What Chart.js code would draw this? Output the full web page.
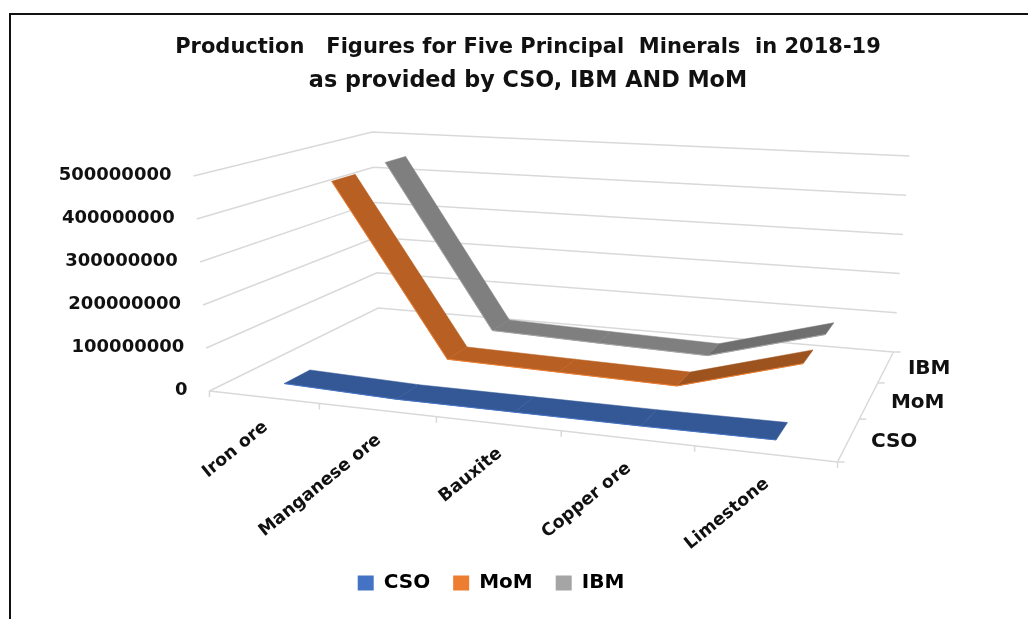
<!DOCTYPE html>
<html>
<head>
<meta charset="utf-8">
<title>Production Figures</title>
<script src="https://cdn.jsdelivr.net/npm/chart.js@4"></script>
<style>
    body { margin: 0; background: #fff; overflow: hidden; }
    #frame { position: absolute; left: 9px; top: 13px; right: 0; bottom: -4px; border-left: 2px solid #111; border-top: 2px solid #111; }
    canvas { position: absolute; left: 0; top: 0; }
</style>
</head>
<body>
<div id="frame"></div>
<canvas id="chart" width="1028" height="619"></canvas>
<script>
const categories = ['Iron ore', 'Manganese ore', 'Bauxite', 'Copper ore', 'Limestone'];
const seriesNames = ['CSO', 'MoM', 'IBM'];
const cso = [9000000, 1000000, 1000000, 1000000, 3000000];
const mom = [440000000, 18000000, 13000000, 8000000, 88000000];
const ibm = [448000000, 20000000, 12000000, 5000000, 83000000];
const valueTicks = [0, 100000000, 200000000, 300000000, 400000000, 500000000];

const VALUE_MAX = 500000000;
const RIBBON_DEPTH = 0.14;
const FONT = '"DejaVu Sans"';

// Box corners as seen in the picture, used to project (category, depth, value).
function quadMap(p00, p10, p11, p01) {
    const dx1 = p10[0] - p11[0], dx2 = p01[0] - p11[0], sx = p00[0] - p10[0] + p11[0] - p01[0];
    const dy1 = p10[1] - p11[1], dy2 = p01[1] - p11[1], sy = p00[1] - p10[1] + p11[1] - p01[1];
    const den = dx1 * dy2 - dx2 * dy1;
    const g = (sx * dy2 - dx2 * sy) / den;
    const h = (dx1 * sy - sx * dy1) / den;
    const a = p10[0] - p00[0] + g * p10[0], b = p01[0] - p00[0] + h * p01[0];
    const d = p10[1] - p00[1] + g * p10[1], e = p01[1] - p00[1] + h * p01[1];
    return (u, v) => {
        const w = g * u + h * v + 1;
        return [(a * u + b * v + p00[0]) / w, (d * u + e * v + p00[1]) / w];
    };
}
const floorMap = quadMap([209, 391], [838, 462], [894, 352], [378, 308]);
const roofMap = quadMap([193, 176], [852, 222], [910, 156], [372, 132]);

function project(u, v, value) {
    const lo = floorMap(u, v), hi = roofMap(u, v), t = value / VALUE_MAX;
    return { x: lo[0] + (hi[0] - lo[0]) * t, y: lo[1] + (hi[1] - lo[1]) * t };
}
const catU = i => (i + 0.5) / categories.length;
const depthV = i => (i + 0.5) / seriesNames.length;

const datasets = [];

function addRibbon(values, seriesIdx, shade, riseShade, edge) {
    const front = depthV(seriesIdx) - RIBBON_DEPTH / 2;
    const back = depthV(seriesIdx) + RIBBON_DEPTH / 2;
    const at = i => catU(i) + 0.004;
    const edgePoints = values.map((val, i) => project(at(i), front, val));
    datasets.push({ data: edgePoints, showLine: true, fill: false, borderColor: edge, borderWidth: 1 });
    for (let i = 0; i < values.length - 1; i++) {
        const a = at(i), b = at(i + 1);
        const color = values[i + 1] > values[i] ? riseShade : shade;
        datasets.push({
            data: [project(a, front, values[i]), project(b, front, values[i + 1]),
                project(b, back, values[i + 1]), project(a, back, values[i]), project(a, front, values[i])],
            showLine: true, fill: 'shape', backgroundColor: color, borderColor: color, borderWidth: 0.5,
        });
    }
}
addRibbon(cso, 0, '#335895', '#335895', '#4472c4');
addRibbon(mom, 1, '#b86023', '#9c531d', '#ed7d31');
addRibbon(ibm, 2, '#7f7f7f', '#6f6f6f', '#a5a5a5');

function addRule(points) {
    datasets.push({ data: points, showLine: true, fill: false, borderColor: '#d9d9d9', borderWidth: 1.5 });
}
// walls
valueTicks.forEach(val => {
    addRule([project(0, 0, val), project(0, 1, val), project(1, 1, val)]);
});
// floor edges and ticks
addRule([project(0, 0, 0), project(1, 0, 0), project(1, 1, 0)]);
for (let i = 0; i <= categories.length; i++) {
    const p = project(i / categories.length, 0, 0);
    addRule([p, { x: p.x, y: p.y + 6 }]);
}
for (let i = 0; i <= seriesNames.length; i++) {
    const p = project(1, i / seriesNames.length, 0);
    addRule([p, { x: p.x + 7, y: p.y }]);
}

const axisText = {
    id: 'axisText',
    afterLayout(chart) {
        // Title sits right of centre and the legend left of it in the picture.
        chart.boxes.filter(box => box.options && box.options.text !== undefined).forEach(box => {
            box.left += 14;
            box.right += 14;
        });
        chart.legend.left -= 23;
        chart.legend.right -= 23;
        chart.legend.top -= 16;
        chart.legend.bottom -= 16;
    },
    afterDatasetsDraw(chart) {
        const { ctx, scales } = chart;
        const px = p => [scales.x.getPixelForValue(p.x), scales.y.getPixelForValue(p.y)];
        ctx.save();
        ctx.fillStyle = '#111';
        ctx.font = 'bold 18px ' + FONT;
        ctx.textBaseline = 'middle';
        ctx.textAlign = 'right';
        valueTicks.forEach(val => {
            const [x, y] = px(project(0, 0, val));
            ctx.fillText(String(val), x - 22, y - 1);
        });
        ctx.textAlign = 'left';
        ctx.font = 'bold 20px ' + FONT;
        seriesNames.forEach((name, i) => {
            const [x, y] = px(project(1, depthV(i), 0));
            ctx.fillText(name, x + 22, y + 2);
        });
        ctx.textAlign = 'right';
        ctx.font = 'bold 17.5px ' + FONT;
        categories.forEach((name, i) => {
            const [x, y] = px(project(catU(i), 0, 0));
            ctx.save();
            ctx.translate(x + 2, y + 28);
            ctx.rotate(-39 * Math.PI / 180);
            ctx.fillText(name, 0, 0);
            ctx.restore();
        });
        ctx.restore();
    },
};

const chart = new Chart(document.getElementById('chart'), {
    type: 'scatter',
    data: { datasets },
    options: {
        responsive: false,
        animation: false,
        events: [],
        elements: { point: { radius: 0 }, line: { tension: 0 } },
        scales: {
            x: { display: false, min: 0, max: 1028 },
            y: { display: false, reverse: true, min: 0, max: 619 },
        },
        datasets: { scatter: { clip: false } },
        plugins: {
            tooltip: { enabled: false },
            title: {
                display: true,
                text: 'Production   Figures for Five Principal  Minerals  in 2018-19',
                color: '#111',
                font: { family: FONT, size: 21, weight: 'bold', lineHeight: 1.6 },
                padding: { top: 31, bottom: 0 },
            },
            subtitle: {
                display: true,
                text: 'as provided by CSO, IBM AND MoM',
                color: '#111',
                font: { family: FONT, size: 22.3, weight: 'bold', lineHeight: 1.5 },
                padding: 0,
            },
            legend: {
                display: true,
                position: 'bottom',
                labels: {
                    color: '#111',
                    font: { family: FONT, size: 20, weight: 'bold' },
                    boxWidth: 16,
                    boxHeight: 15,
                    padding: 23,
                    generateLabels: () => seriesNames.map((name, i) => ({
                        text: name,
                        fillStyle: ['#4472c4', '#ed7d31', '#a5a5a5'][i],
                        strokeStyle: 'transparent',
                        lineWidth: 0,
                        datasetIndex: i,
                    })),
                },
            },
        },
    },
    plugins: [axisText],
});

// Title and legend take up room, so line the data scales up with the canvas pixels.
chart.options.scales.y.min = chart.chartArea.top;
chart.options.scales.y.max = chart.chartArea.bottom;
chart.options.scales.x.min = chart.chartArea.left;
chart.options.scales.x.max = chart.chartArea.right;
chart.update('none');
</script>
</body>
</html>
